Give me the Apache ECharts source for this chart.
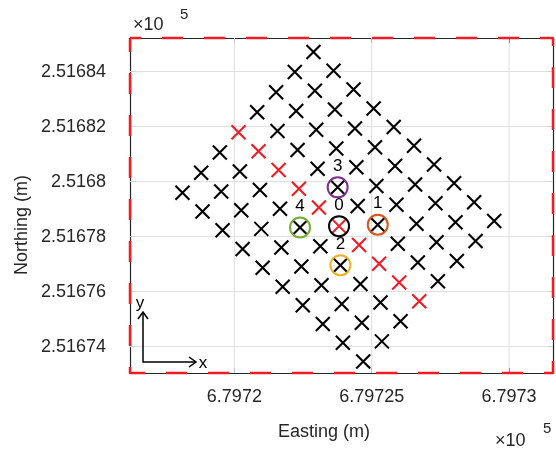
<!DOCTYPE html>
<html>
<head>
<meta charset="utf-8">
<script src="https://cdn.jsdelivr.net/npm/echarts@6/dist/echarts.min.js"></script>
<style>
  html, body { margin: 0; padding: 0; background: #ffffff; }
  #chart { width: 556px; height: 454px; }
</style>
</head>
<body>
<div id="chart"></div>
<script>
// Survey grid positions (metres, UTM). Each row runs along one line of the rotated 1 m grid.
const gridEasting = [
  [679722.88, 679723.61, 679724.34, 679725.07, 679725.80, 679726.54, 679727.27, 679728.00, 679728.73, 679729.46],
  [679722.20, 679722.93, 679723.66, 679724.39, 679725.12, 679725.85, 679726.58, 679727.32, 679728.05, 679728.78],
  [679721.52, 679722.25, 679722.98, 679723.71, 679724.44, 679725.17, 679725.90, 679726.63, 679727.36, 679728.10],
  [679720.83, 679721.57, 679722.30, 679723.03, 679723.76, 679724.49, 679725.22, 679725.95, 679726.68, 679727.41],
  [679719.47, 679720.20, 679720.93, 679721.66, 679722.39, 679723.13, 679723.86, 679724.59, 679725.32, 679726.05],
  [679718.79, 679719.52, 679720.25, 679720.98, 679721.71, 679722.44, 679723.17, 679723.91, 679724.64, 679725.37],
  [679718.11, 679718.84, 679719.57, 679720.30, 679721.03, 679721.76, 679722.49, 679723.22, 679723.95, 679724.69]
];
const gridNorthing = [
  [251684.71, 251684.03, 251683.35, 251682.66, 251681.98, 251681.30, 251680.62, 251679.94, 251679.25, 251678.57],
  [251683.98, 251683.30, 251682.62, 251681.93, 251681.25, 251680.57, 251679.89, 251679.21, 251678.52, 251677.84],
  [251683.25, 251682.57, 251681.88, 251681.20, 251680.52, 251679.84, 251679.16, 251678.47, 251677.79, 251677.11],
  [251682.52, 251681.84, 251681.15, 251680.47, 251679.79, 251679.11, 251678.43, 251677.74, 251677.06, 251676.38],
  [251681.06, 251680.37, 251679.69, 251679.01, 251678.33, 251677.65, 251676.96, 251676.28, 251675.60, 251674.92],
  [251680.32, 251679.64, 251678.96, 251678.28, 251677.60, 251676.91, 251676.23, 251675.55, 251674.87, 251674.19],
  [251679.59, 251678.91, 251678.23, 251677.55, 251676.87, 251676.18, 251675.50, 251674.82, 251674.14, 251673.46]
];

// Transect line (highlighted in red)
const transectEasting  = [679720.15, 679720.88, 679721.61, 679722.35, 679723.08, 679723.81, 679724.54, 679725.27, 679726.00, 679726.73];
const transectNorthing = [251681.79, 251681.10, 251680.42, 251679.74, 251679.06, 251678.38, 251677.69, 251677.01, 251676.33, 251675.65];

// Numbered stations
const stationNames    = ['0', '1', '2', '3', '4'];
const stationEasting  = [679723.81, 679725.22, 679723.86, 679723.76, 679722.39];
const stationNorthing = [251678.38, 251678.43, 251676.96, 251679.79, 251678.33];
const stationColors   = ['#000000', '#D95319', '#EDB120', '#7E2F8E', '#77AC30'];

// Axis limits and ticks
const xLimits = [679716.2, 679731.6];
const yLimits = [251673.04, 251685.22];
const xTickValues = [679720, 679725, 679730];
const xTickLabels = ['6.7972', '6.79725', '6.7973'];
const yTickValues = [251674, 251676, 251678, 251680, 251682, 251684];
const yTickLabels = ['2.51674', '2.51676', '2.51678', '2.5168', '2.51682', '2.51684'];

const FONT = 'Liberation Sans, Arial, Helvetica, sans-serif';
const TEXT = '#262626';
const CROSS = 'path://M0,0L10,10M10,0L0,10';

const blackPoints = [];
gridEasting.forEach((row, r) => row.forEach((e, i) => blackPoints.push([e, gridNorthing[r][i]])));
const redPoints = transectEasting.map((e, i) => [e, transectNorthing[i]]);
const stations = stationNames.map((n, i) => ({
  value: [stationEasting[i], stationNorthing[i]],
  name: n,
  itemStyle: { borderColor: stationColors[i] }
}));

function labelFormatter(values, labels) {
  return v => {
    const k = values.findIndex(t => Math.abs(t - v) < 1e-6);
    return k >= 0 ? labels[k] : '';
  };
}

function makeAxis(values, labels, position, limits, showLabels, margin) {
  return {
    type: 'value',
    position: position,
    min: limits[0],
    max: limits[1],
    axisLine: { show: true, onZero: false, lineStyle: { color: '#262626', width: 1.2 } },
    axisTick: { show: true, inside: true, length: 5, customValues: values, lineStyle: { color: '#262626', width: 1 } },
    axisLabel: {
      show: showLabels,
      customValues: values,
      formatter: labelFormatter(values, labels),
      margin: margin,
      color: TEXT, fontFamily: FONT, fontSize: 18
    },
    splitLine: { show: false }
  };
}

// light grid lines at each tick, as thin line series spanning the axis limits
const gridLineSeries = xTickValues.map(v => [[v, yLimits[0]], [v, yLimits[1]]])
  .concat(yTickValues.map(v => [[xLimits[0], v], [xLimits[1], v]]))
  .map(seg => ({
    type: 'line',
    data: seg,
    symbol: 'none',
    silent: true,
    z: 1,
    lineStyle: { color: '#dedede', width: 1 }
  }));

const chart = echarts.init(document.getElementById('chart'), null, { renderer: 'canvas' });

const option = {
  backgroundColor: '#ffffff',
  animation: false,
  grid: { left: 130, top: 38, right: 3, bottom: 81, containLabel: false },
  xAxis: [
    makeAxis(xTickValues, xTickLabels, 'bottom', xLimits, true, 15),
    makeAxis(xTickValues, xTickLabels, 'top', xLimits, false, 8)
  ],
  yAxis: [
    makeAxis(yTickValues, yTickLabels, 'left', yLimits, true, 24),
    makeAxis(yTickValues, yTickLabels, 'right', yLimits, false, 8)
  ],
  series: gridLineSeries.concat([
    {
      type: 'scatter',
      data: blackPoints,
      symbol: CROSS,
      symbolSize: 14,
      z: 3,
      silent: true,
      itemStyle: { color: 'none', borderColor: '#000000', borderWidth: 2.1, opacity: 1 }
    },
    {
      type: 'scatter',
      data: redPoints,
      symbol: CROSS,
      symbolSize: 14,
      z: 4,
      silent: true,
      itemStyle: { color: 'none', borderColor: '#ee1c25', borderWidth: 2.1, opacity: 1 }
    },
    {
      type: 'scatter',
      data: stations,
      symbol: 'circle',
      symbolSize: 20,
      z: 5,
      silent: true,
      itemStyle: { color: 'none', borderWidth: 2, opacity: 1 },
      label: {
        show: true,
        position: 'top',
        distance: 0,
        formatter: p => p.name,
        color: '#000000',
        fontFamily: FONT,
        fontSize: 17
      }
    },
    {
      // dashed outline along the axis limits
      type: 'line',
      data: [[xLimits[0], yLimits[1]], [xLimits[1], yLimits[1]], [xLimits[1], yLimits[0]], [xLimits[0], yLimits[0]], [xLimits[0], yLimits[1]]],
      symbol: 'none',
      clip: false,
      z: 6,
      silent: true,
      lineStyle: { color: '#ee1c25', width: 2.5, type: [21, 21], dashOffset: 10 }
    }
  ]),
  graphic: [
    { type: 'text', silent: true,
      style: { x: 324, y: 432, text: 'Easting (m)', fill: TEXT, font: '18px ' + FONT, textAlign: 'center', textVerticalAlign: 'middle' } },
    { type: 'text', silent: true, x: 22, y: 225, rotation: Math.PI / 2,
      style: { x: 0, y: 0, text: 'Northing (m)', fill: TEXT, font: '18px ' + FONT, textAlign: 'center', textVerticalAlign: 'middle' } },
    // exponent notes
    { type: 'text', silent: true, style: { x: 133, y: 25, text: '×10', fill: TEXT, font: '18px ' + FONT, textAlign: 'left', textVerticalAlign: 'middle' } },
    { type: 'text', silent: true, style: { x: 180, y: 15, text: '5', fill: TEXT, font: '15px ' + FONT, textAlign: 'left', textVerticalAlign: 'middle' } },
    { type: 'text', silent: true, style: { x: 495, y: 441, text: '×10', fill: TEXT, font: '18px ' + FONT, textAlign: 'left', textVerticalAlign: 'middle' } },
    { type: 'text', silent: true, style: { x: 543, y: 429, text: '5', fill: TEXT, font: '15px ' + FONT, textAlign: 'left', textVerticalAlign: 'middle' } },
    // local frame arrows
    { type: 'polyline', silent: true, z: 10, shape: { points: [[143, 312], [143, 362], [196, 362]] }, style: { stroke: '#000', lineWidth: 1.5, fill: null } },
    { type: 'polyline', silent: true, z: 10, shape: { points: [[138, 319], [143, 312], [148, 319]] }, style: { stroke: '#000', lineWidth: 1.5, fill: null } },
    { type: 'polyline', silent: true, z: 10, shape: { points: [[189, 357], [196, 362], [189, 367]] }, style: { stroke: '#000', lineWidth: 1.5, fill: null } },
    { type: 'text', silent: true, z: 10, style: { x: 140, y: 303, text: 'y', fill: '#000', font: '17px ' + FONT, textAlign: 'center', textVerticalAlign: 'middle' } },
    { type: 'text', silent: true, z: 10, style: { x: 203, y: 363, text: 'x', fill: '#000', font: '17px ' + FONT, textAlign: 'center', textVerticalAlign: 'middle' } }
  ]
};

chart.setOption(option);
</script>
</body>
</html>
